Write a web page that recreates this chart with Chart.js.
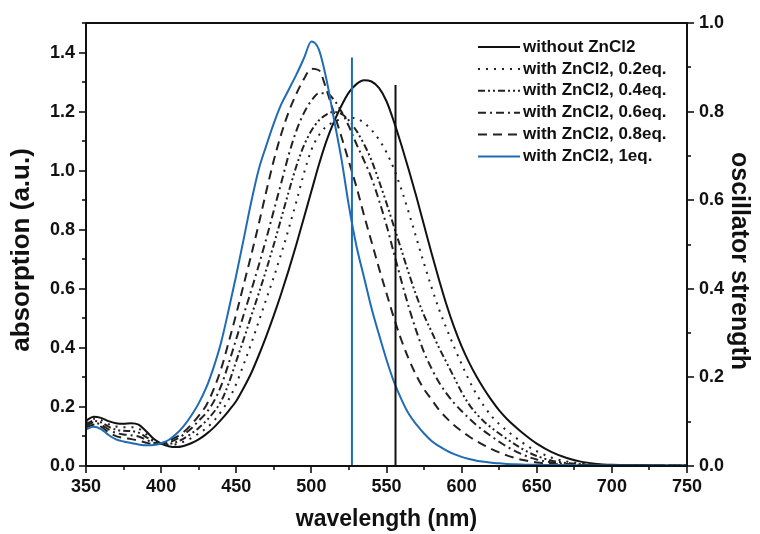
<!DOCTYPE html>
<html>
<head>
<meta charset="utf-8">
<script src="https://cdn.jsdelivr.net/npm/chart.js@4/dist/chart.umd.min.js"></script>
<style>
  html, body { margin: 0; padding: 0; background: #ffffff; }
  canvas { display: block; }
</style>
</head>
<body>
<canvas id="chart" width="760" height="534"></canvas>
<script>
// Wavelength grid (nm) shared by all absorption spectra
const wavelength = [
  350,355,360,365,370,375,380,385,390,395,
  400,405,410,415,420,425,430,435,440,445,
  450,455,460,465,470,475,480,485,490,495,
  500,505,510,515,520,525,530,535,540,545,
  550,555,560,565,570,575,580,585,590,595,
  600,605,610,615,620,625,630,635,640,645,
  650,660,670,680,690,700,710,720,730,740,750
];

// Absorption (a.u.) without ZnCl2
const absNoZn = [
  0.153,0.167,0.163,0.152,0.145,0.143,0.145,0.140,0.118,0.092,
  0.076,0.067,0.064,0.068,0.077,0.090,0.108,0.130,0.157,0.187,
  0.220,0.265,0.315,0.375,0.440,0.510,0.585,0.665,0.750,0.840,
  0.930,1.020,1.100,1.165,1.220,1.265,1.293,1.306,1.302,1.280,
  1.235,1.165,1.085,1.000,0.910,0.815,0.720,0.630,0.545,0.470,
  0.405,0.350,0.302,0.260,0.222,0.188,0.160,0.136,0.114,0.094,
  0.076,0.047,0.027,0.014,0.007,0.004,0.003,0.003,0.002,0.002,0.002
];

// Absorption with 0.2 eq. ZnCl2
const absZn02 = [
  0.147,0.160,0.156,0.142,0.134,0.131,0.131,0.127,0.108,0.088,
  0.076,0.072,0.074,0.082,0.094,0.110,0.128,0.152,0.185,0.225,
  0.278,0.345,0.415,0.490,0.565,0.640,0.720,0.805,0.895,0.990,
  1.070,1.120,1.150,1.165,1.175,1.180,1.176,1.162,1.138,1.105,
  1.062,1.005,0.935,0.855,0.770,0.685,0.605,0.530,0.465,0.403,
  0.345,0.290,0.242,0.202,0.168,0.142,0.120,0.100,0.081,0.064,
  0.050,0.028,0.015,0.009,0.005,0.003,0.002,0.002,0.002,0.002,0.002
];

// Absorption with 0.4 eq. ZnCl2
const absZn04 = [
  0.141,0.153,0.148,0.133,0.123,0.119,0.118,0.113,0.098,0.084,
  0.076,0.075,0.081,0.093,0.109,0.129,0.153,0.182,0.220,0.280,
  0.355,0.430,0.508,0.585,0.665,0.750,0.840,0.930,1.015,1.085,
  1.135,1.170,1.190,1.199,1.192,1.170,1.135,1.090,1.035,0.965,
  0.890,0.810,0.730,0.650,0.575,0.510,0.455,0.400,0.350,0.300,
  0.250,0.208,0.176,0.150,0.129,0.110,0.092,0.075,0.059,0.045,
  0.034,0.018,0.010,0.006,0.004,0.003,0.002,0.002,0.002,0.002,0.002
];

// Absorption with 0.6 eq. ZnCl2
const absZn06 = [
  0.136,0.147,0.140,0.124,0.112,0.107,0.104,0.100,0.089,0.079,
  0.077,0.080,0.090,0.106,0.127,0.153,0.180,0.218,0.272,0.348,
  0.430,0.513,0.595,0.680,0.770,0.865,0.960,1.055,1.135,1.195,
  1.237,1.262,1.262,1.240,1.200,1.150,1.090,1.035,0.975,0.900,
  0.815,0.720,0.625,0.535,0.455,0.385,0.330,0.283,0.245,0.213,
  0.186,0.161,0.138,0.118,0.100,0.082,0.066,0.052,0.040,0.030,
  0.022,0.012,0.007,0.004,0.003,0.002,0.002,0.002,0.002,0.002,0.002
];

// Absorption with 0.8 eq. ZnCl2
const absZn08 = [
  0.130,0.140,0.133,0.114,0.101,0.095,0.091,0.086,0.079,0.075,
  0.077,0.085,0.098,0.115,0.140,0.170,0.205,0.260,0.330,0.420,
  0.515,0.615,0.715,0.820,0.930,1.035,1.125,1.200,1.260,1.310,
  1.345,1.340,1.275,1.195,1.115,1.030,0.945,0.850,0.760,0.670,
  0.585,0.500,0.425,0.360,0.305,0.260,0.225,0.190,0.162,0.138,
  0.118,0.100,0.084,0.070,0.057,0.046,0.036,0.028,0.021,0.016,
  0.012,0.007,0.004,0.003,0.002,0.002,0.002,0.002,0.002,0.002,0.002
];

// Absorption with 1 eq. ZnCl2
const absZn10 = [
  0.124,0.133,0.125,0.105,0.090,0.083,0.078,0.073,0.070,0.071,
  0.077,0.088,0.108,0.135,0.170,0.212,0.265,0.335,0.420,0.530,
  0.646,0.770,0.895,1.005,1.085,1.160,1.225,1.275,1.325,1.380,
  1.437,1.410,1.310,1.175,1.040,0.880,0.745,0.640,0.535,0.445,
  0.360,0.285,0.225,0.175,0.140,0.110,0.085,0.067,0.052,0.040,
  0.031,0.024,0.018,0.014,0.011,0.009,0.007,0.006,0.005,0.004,
  0.004,0.003,0.003,0.002,0.002,0.002,0.002,0.002,0.002,0.002,0.002
];

// Calculated transitions: wavelength (nm) and oscillator strength
const stickWavelength = [556, 527];
const stickStrength = [0.86, 0.922];

const seriesLabels = [
  'without ZnCl2',
  'with ZnCl2, 0.2eq.',
  'with ZnCl2, 0.4eq.',
  'with ZnCl2, 0.6eq.',
  'with ZnCl2, 0.8eq.',
  'with ZnCl2, 1eq.'
];

const xTickValues = [350, 400, 450, 500, 550, 600, 650, 700, 750];
const absTickValues = [0, 0.2, 0.4, 0.6, 0.8, 1.0, 1.2, 1.4];
const strengthTickValues = [0, 0.2, 0.4, 0.6, 0.8, 1.0];

const xTitle = 'wavelength (nm)';
const absTitle = 'absorption (a.u.)';
const strengthTitle = 'oscillator strength';

const FONT = 'Arial, "Liberation Sans", Helvetica, sans-serif';
const INK = '#111111';
const BLUE = '#1f6cb4';

const toPoints = ys => wavelength.map((w, i) => ({ x: w, y: ys[i] }));

const spectra = [
  { label: seriesLabels[0], values: absNoZn, color: INK,       dash: [] },
  { label: seriesLabels[1], values: absZn02, color: '#222222', dash: [2, 6] },
  { label: seriesLabels[2], values: absZn04, color: '#222222', dash: [7, 3, 2, 3, 2, 3] },
  { label: seriesLabels[3], values: absZn06, color: '#222222', dash: [8, 4, 2, 4] },
  { label: seriesLabels[4], values: absZn08, color: '#222222', dash: [9, 6] },
  { label: seriesLabels[5], values: absZn10, color: BLUE,      dash: [] }
];

const datasets = spectra.map((s, i) => ({
  label: s.label,
  data: toPoints(s.values),
  borderColor: s.color,
  borderWidth: 2,
  borderDash: s.dash,
  yAxisID: 'y',
  order: 10 - i
}));

// Vertical sticks for the calculated transitions (right axis)
const stickColors = [INK, BLUE];
stickWavelength.forEach((w, i) => {
  datasets.push({
    label: 'transition ' + w,
    data: [{ x: w, y: 0 }, { x: w, y: stickStrength[i] }],
    borderColor: stickColors[i],
    borderWidth: 2,
    yAxisID: 'y2',
    cubicInterpolationMode: 'default',
    tension: 0,
    order: 0
  });
});

// Frame, major and minor tick marks
const framePlugin = {
  id: 'frameTicks',
  afterDraw(chart) {
    const { ctx, chartArea: a, scales } = chart;
    const x = scales.x, y = scales.y, y2 = scales.y2;
    ctx.save();
    ctx.strokeStyle = INK;
    ctx.lineWidth = 2;
    ctx.setLineDash([]);
    ctx.strokeRect(a.left, a.top, a.right - a.left, a.bottom - a.top);
    ctx.lineWidth = 1.6;
    const seg = (x1, y1, x2, y2p) => {
      ctx.beginPath(); ctx.moveTo(x1, y1); ctx.lineTo(x2, y2p); ctx.stroke();
    };
    for (let v = 350; v <= 750; v += 25) {
      const px = Math.round(x.getPixelForValue(v));
      const len = (v % 50 === 0) ? 7 : 4;
      seg(px, a.bottom, px, a.bottom + len);
    }
    for (let k = 0; k <= 15; k++) {
      const py = Math.round(y.getPixelForValue(k / 10));
      const len = (k % 2 === 0) ? 7 : 4;
      seg(a.left, py, a.left - len, py);
    }
    for (let k = 0; k <= 10; k++) {
      const py = Math.round(y2.getPixelForValue(k / 10));
      const len = (k % 2 === 0) ? 7 : 4;
      seg(a.right, py, a.right + len, py);
    }
    ctx.restore();
  }
};

// Rotated titles for the two vertical axes
const sideTitlePlugin = {
  id: 'sideTitles',
  afterDraw(chart) {
    const ctx = chart.ctx;
    const drawRotated = (text, cx, cy, angle, size) => {
      ctx.save();
      ctx.translate(cx, cy);
      ctx.rotate(angle);
      ctx.font = 'bold ' + size + 'px ' + FONT;
      ctx.fillStyle = INK;
      ctx.textAlign = 'center';
      ctx.textBaseline = 'middle';
      ctx.fillText(text, 0, 0);
      ctx.restore();
    };
    drawRotated(absTitle, 22, 250, -Math.PI / 2, 26);
    drawRotated(strengthTitle, 739, 261, Math.PI / 2, 25);
  }
};

// Legend drawn inside the plot, top right
const legendPlugin = {
  id: 'insideLegend',
  afterDraw(chart) {
    const ctx = chart.ctx;
    ctx.save();
    ctx.font = 'bold 17px ' + FONT;
    ctx.textBaseline = 'middle';
    ctx.textAlign = 'left';
    ctx.fillStyle = INK;
    spectra.forEach((s, i) => {
      const yy = 47 + i * 21.9;
      ctx.strokeStyle = s.color;
      ctx.lineWidth = 2;
      ctx.setLineDash(s.dash);
      ctx.beginPath();
      ctx.moveTo(478, yy);
      ctx.lineTo(520, yy);
      ctx.stroke();
      ctx.setLineDash([]);
      ctx.fillText(s.label, 523, yy);
    });
    ctx.restore();
  }
};

const tickFont = { family: FONT, size: 18, weight: 'bold' };
const titleFont = { family: FONT, size: 23, weight: 'bold' };

new Chart(document.getElementById('chart'), {
  type: 'line',
  data: { datasets },
  options: {
    responsive: false,
    animation: false,
    devicePixelRatio: 1,
    layout: { padding: { top: 23, left: 0, right: 0, bottom: 0 } },
    elements: {
      point: { radius: 0 },
      line: { cubicInterpolationMode: 'monotone', borderCapStyle: 'butt', fill: false }
    },
    plugins: { legend: { display: false }, tooltip: { enabled: false } },
    scales: {
      x: {
        type: 'linear',
        min: 350, max: 750,
        afterBuildTicks: s => { s.ticks = xTickValues.map(v => ({ value: v })); },
        afterFit: s => { s.height = 68; },
        grid: { display: false, drawTicks: false },
        border: { display: false },
        ticks: { padding: 10, color: INK, font: tickFont, maxRotation: 0 },
        title: { display: true, text: xTitle, color: INK, font: titleFont, padding: { top: 0, bottom: 1 } }
      },
      y: {
        position: 'left',
        min: 0, max: 1.5,
        afterBuildTicks: s => { s.ticks = absTickValues.map(v => ({ value: v })); },
        afterFit: s => { s.width = 86; },
        grid: { display: false, drawTicks: false },
        border: { display: false },
        ticks: { padding: 11, color: INK, font: tickFont, callback: v => Number(v).toFixed(1) }
      },
      y2: {
        position: 'right',
        min: 0, max: 1.0,
        afterBuildTicks: s => { s.ticks = strengthTickValues.map(v => ({ value: v })); },
        afterFit: s => { s.width = 73; },
        grid: { display: false, drawTicks: false },
        border: { display: false },
        ticks: { padding: 12, color: INK, font: tickFont, callback: v => Number(v).toFixed(1) }
      }
    }
  },
  plugins: [framePlugin, sideTitlePlugin, legendPlugin]
});
</script>
</body>
</html>
